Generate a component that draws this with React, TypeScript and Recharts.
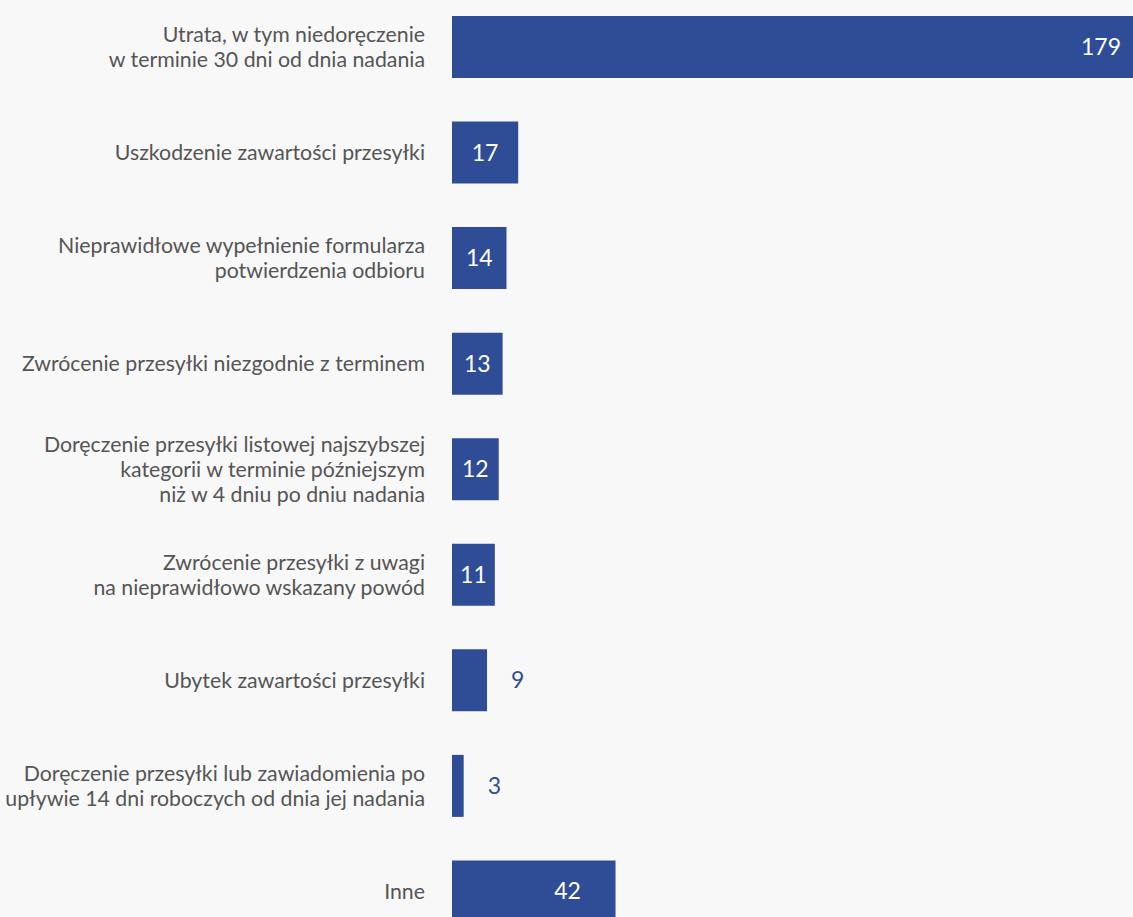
import { Bar, BarChart, LabelList, XAxis, YAxis } from "recharts";

const categories = [
  "Utrata, w tym niedoręczenie\nw terminie 30 dni od dnia nadania",
  "Uszkodzenie zawartości przesyłki",
  "Nieprawidłowe wypełnienie formularza\npotwierdzenia odbioru",
  "Zwrócenie przesyłki niezgodnie z terminem",
  "Doręczenie przesyłki listowej najszybszej\nkategorii w terminie późniejszym\nniż w 4 dniu po dniu nadania",
  "Zwrócenie przesyłki z uwagi\nna nieprawidłowo wskazany powód",
  "Ubytek zawartości przesyłki",
  "Doręczenie przesyłki lub zawiadomienia po\nupływie 14 dni roboczych od dnia jej nadania",
  "Inne",
];
const counts = [179, 17, 14, 13, 12, 11, 9, 3, 42];

const data = categories.map((name, i) => ({ name, value: counts[i] }));

const BLUE = "#2f4c97";
const FONT = "Lato, 'Noto Sans', sans-serif";

function CategoryTick(props: any) {
  const { x, y, payload } = props;
  const lines = String(payload.value).split("\n");
  const n = lines.length;
  return (
    <text x={x} y={y} textAnchor="end" fill="#555" fontSize={21.3} fontFamily={FONT}>
      {lines.map((l, i) => (
        <tspan key={i} x={x} y={y + (i - (n - 1) / 2) * 25 + 8}>
          {l}
        </tspan>
      ))}
    </text>
  );
}

function ValueLabel(props: any) {
  const x = Number(props.x);
  const y = Number(props.y);
  const width = Number(props.width);
  const height = Number(props.height);
  const value = props.value;
  const cy = y + height / 2 + 8;
  if (value < 10) {
    return (
      <text x={x + width + 24} y={cy} fill={BLUE} fontSize={23} fontFamily={FONT}>
        {value}
      </text>
    );
  }
  const cx = Math.max(x + width / 2, x + width - 48);
  return (
    <text x={cx} y={cy} textAnchor="middle" fill="#fff" fontSize={23} fontFamily={FONT}>
      {value}
    </text>
  );
}

export default function App() {
  return (
    <div
      style={{
        position: "fixed",
        left: 0,
        top: 0,
        width: 1133,
        height: 917,
        overflow: "hidden",
        background: "#f8f8f8",
      }}
    >
      <div style={{ position: "absolute", left: 0, top: -6 }}>
        <BarChart
          width={1149}
          height={950}
          data={data}
          layout="vertical"
          margin={{ top: 0, right: 0, bottom: 0, left: 0 }}
        >
          <XAxis type="number" domain={[0, 179]} hide />
          <YAxis
            type="category"
            dataKey="name"
            width={452}
            axisLine={false}
            tickLine={false}
            tickSize={0}
            tickMargin={27}
            interval={0}
            tick={<CategoryTick />}
          />
          <Bar dataKey="value" fill={BLUE} barSize={62} isAnimationActive={false}>
            <LabelList dataKey="value" content={<ValueLabel />} />
          </Bar>
        </BarChart>
      </div>
    </div>
  );
}
